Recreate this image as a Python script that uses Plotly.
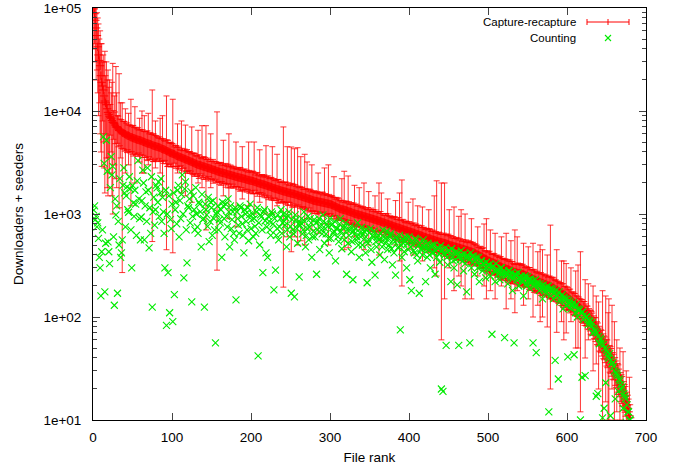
import plotly.graph_objects as go

# File ranks
ranks = list(range(1, 681))

# Capture-recapture estimates (one row = 20 ranks)
capture = [
    98000, 88000, 76000, 64000, 54000, 42000, 35000, 31000, 27500, 22000, 19000, 17500, 16000, 14000, 12500, 12000, 11500, 10500, 9700, 9300,
    8900, 8700, 8500, 8100, 7800, 7700, 7600, 7300, 7000, 6980, 6950, 6700, 6500, 6480, 6450, 6300, 6150, 6120, 6100, 6000,
    5950, 5870, 5800, 5770, 5750, 5680, 5600, 5570, 5550, 5500, 5450, 5420, 5400, 5350, 5300, 5270, 5250, 5220, 5200, 5170,
    5150, 5100, 5050, 5020, 5000, 4950, 4900, 4870, 4850, 4820, 4800, 4770, 4750, 4700, 4650, 4620, 4600, 4570, 4550, 4520,
    4500, 4470, 4450, 4420, 4400, 4350, 4300, 4270, 4250, 4220, 4200, 4150, 4100, 4070, 4050, 4000, 3950, 3920, 3900, 3870,
    3850, 3820, 3800, 3750, 3700, 3670, 3650, 3620, 3600, 3570, 3550, 3520, 3500, 3470, 3450, 3420, 3400, 3370, 3350, 3320,
    3300, 3270, 3250, 3220, 3200, 3170, 3150, 3120, 3100, 3070, 3050, 3020, 3000, 2990, 2980, 2960, 2950, 2920, 2900, 2890,
    2880, 2860, 2850, 2820, 2800, 2790, 2780, 2760, 2750, 2720, 2700, 2690, 2680, 2660, 2650, 2620, 2600, 2590, 2580, 2560,
    2550, 2530, 2520, 2510, 2500, 2490, 2480, 2460, 2450, 2430, 2420, 2410, 2400, 2390, 2380, 2360, 2350, 2340, 2330, 2310,
    2300, 2290, 2280, 2270, 2260, 2250, 2240, 2230, 2220, 2210, 2200, 2190, 2180, 2160, 2150, 2140, 2130, 2120, 2110, 2105,
    2100, 2090, 2080, 2060, 2050, 2040, 2030, 2010, 2000, 1990, 1980, 1970, 1960, 1950, 1940, 1930, 1920, 1910, 1900, 1885,
    1870, 1860, 1850, 1840, 1830, 1815, 1800, 1790, 1780, 1770, 1760, 1750, 1740, 1730, 1720, 1710, 1700, 1690, 1680, 1670,
    1660, 1655, 1650, 1640, 1630, 1620, 1610, 1605, 1600, 1590, 1580, 1575, 1570, 1565, 1560, 1550, 1540, 1530, 1520, 1510,
    1500, 1495, 1490, 1480, 1470, 1460, 1450, 1445, 1440, 1430, 1420, 1410, 1400, 1395, 1390, 1380, 1370, 1360, 1350, 1345,
    1340, 1335, 1330, 1325, 1320, 1315, 1310, 1305, 1300, 1295, 1290, 1285, 1280, 1275, 1270, 1265, 1260, 1255, 1250, 1245,
    1240, 1230, 1220, 1210, 1200, 1190, 1180, 1170, 1160, 1150, 1140, 1130, 1120, 1115, 1110, 1105, 1100, 1095, 1090, 1085,
    1080, 1070, 1060, 1055, 1050, 1045, 1040, 1030, 1020, 1015, 1010, 1005, 1000, 995, 990, 985, 980, 975, 970, 965,
    960, 955, 950, 945, 940, 935, 930, 925, 920, 915, 910, 905, 900, 895, 890, 885, 880, 875, 870, 865,
    860, 855, 850, 845, 840, 835, 830, 825, 820, 815, 810, 805, 800, 795, 790, 785, 780, 775, 770, 765,
    760, 755, 750, 745, 740, 738, 735, 730, 725, 720, 715, 710, 705, 702, 700, 695, 690, 685, 680, 678,
    675, 670, 665, 662, 660, 655, 650, 645, 640, 638, 635, 630, 625, 622, 620, 615, 610, 605, 600, 598,
    595, 590, 585, 582, 580, 578, 575, 570, 565, 562, 560, 558, 555, 550, 545, 542, 540, 538, 535, 532,
    530, 528, 525, 522, 520, 518, 515, 512, 510, 505, 500, 498, 495, 492, 490, 488, 485, 482, 480, 478,
    475, 472, 470, 468, 465, 462, 460, 458, 455, 452, 450, 448, 445, 442, 440, 438, 435, 432, 430, 428,
    425, 422, 418, 414, 410, 406, 402, 398, 395, 392, 388, 384, 380, 376, 372, 368, 365, 362, 358, 354,
    350, 348, 345, 342, 340, 338, 335, 332, 330, 328, 325, 322, 318, 315, 312, 309, 306, 303, 300, 299,
    298, 296, 294, 292, 290, 288, 286, 284, 282, 280, 278, 276, 274, 272, 270, 269, 268, 267, 266, 265,
    265, 264, 262, 260, 258, 256, 254, 252, 250, 248, 246, 244, 242, 240, 238, 236, 234, 232, 230, 228,
    225, 224, 222, 220, 219, 218, 216, 214, 213, 212, 210, 208, 207, 206, 204, 202, 201, 200, 198, 197,
    195, 193, 191, 189, 187, 185, 183, 181, 179, 177, 175, 173, 171, 169, 167, 165, 163, 161, 159, 157,
    155, 152, 150, 148, 146, 144, 142, 140, 138, 136, 134, 132, 130, 128, 126, 124, 122, 120, 118, 116,
    114, 112, 110, 108, 105, 102, 100, 98, 95, 92, 90, 88, 85, 82, 80, 78, 75, 72, 70, 67,
    64, 62, 60, 58, 56, 54, 52, 50, 49, 47, 46, 44, 43, 41, 40, 38, 37, 35, 34, 32,
    31, 29, 28, 27, 26, 24, 23, 22, 21, 20, 19, 18, 17, 16, 15, 14, 13, 12, 11, 10.5,
]

# Typical relative half-width of the confidence interval (percent)
err_pct = [
    40, 40, 40, 40, 40, 40, 40, 40, 40, 40, 40, 40, 40, 40, 40, 40, 40, 40, 40, 40,
    35, 33, 30, 36, 38, 31, 32, 34, 36, 30, 30, 33, 34, 29, 28, 31, 33, 30, 30, 32,
    28, 30, 32, 27, 25, 29, 30, 26, 27, 31, 33, 28, 26, 30, 29, 27, 31, 25, 24, 28,
    27, 29, 30, 26, 24, 28, 28, 31, 32, 27, 25, 29, 29, 26, 26, 30, 30, 27, 23, 28,
    26, 24, 22, 27, 29, 25, 24, 28, 27, 23, 21, 26, 25, 29, 28, 24, 23, 27, 26, 25,
    22, 25, 18, 23, 25, 21, 20, 26, 23, 19, 17, 24, 24, 20, 19, 25, 21, 23, 26, 22,
    20, 23, 24, 19, 18, 24, 22, 25, 25, 21, 19, 23, 21, 26, 23, 20, 17, 24, 22, 25,
    19, 24, 23, 20, 21, 25, 17, 22, 24, 19, 20, 26, 22, 21, 18, 23, 25, 20, 21, 24,
    21, 25, 18, 22, 24, 20, 20, 26, 22, 19, 26, 23, 19, 25, 23, 21, 17, 24, 22, 20,
    23, 20, 19, 24, 21, 26, 25, 19, 18, 23, 22, 25, 20, 21, 24, 19, 19, 25, 21, 23,
    20, 25, 24, 19, 17, 23, 22, 26, 19, 21, 23, 18, 21, 24, 18, 22, 25, 20, 20, 24,
    22, 26, 19, 21, 23, 25, 18, 22, 24, 19, 20, 23, 21, 25, 26, 20, 19, 24, 22, 21,
    18, 22, 23, 25, 20, 24, 25, 19, 19, 23, 22, 26, 24, 20, 17, 25, 21, 22, 23, 19,
    21, 24, 18, 22, 24, 19, 20, 25, 23, 21, 19, 24, 22, 18, 25, 23, 18, 21, 21, 25,
    24, 21, 20, 25, 19, 22, 23, 20, 21, 26, 26, 19, 18, 24, 22, 21, 20, 25, 24, 20,
    19, 23, 22, 20, 25, 21, 18, 24, 21, 25, 23, 19, 20, 22, 24, 18, 22, 25, 19, 23,
    23, 19, 20, 25, 18, 22, 24, 21, 22, 26, 19, 23, 25, 20, 21, 24, 20, 22, 23, 19,
    20, 24, 25, 21, 21, 18, 19, 25, 23, 20, 22, 26, 18, 23, 24, 19, 21, 25, 20, 22,
    22, 20, 19, 25, 24, 21, 21, 18, 18, 23, 25, 20, 23, 26, 20, 22, 22, 19, 19, 24,
    21, 25, 23, 19, 20, 24, 26, 22, 19, 21, 22, 25, 24, 20, 18, 23, 23, 19, 21, 24,
    24, 21, 20, 23, 22, 25, 19, 22, 25, 20, 21, 24, 23, 19, 20, 25, 18, 22, 24, 20,
    19, 23, 24, 20, 21, 25, 23, 19, 20, 24, 22, 18, 18, 23, 25, 21, 21, 24, 22, 19,
    23, 20, 21, 25, 19, 22, 24, 20, 22, 26, 20, 23, 25, 21, 19, 24, 23, 20, 21, 24,
    20, 24, 22, 19, 24, 21, 18, 23, 23, 20, 21, 25, 19, 22, 26, 20, 22, 25, 20, 23,
    25, 22, 21, 24, 20, 23, 23, 19, 19, 24, 24, 21, 22, 25, 21, 20, 18, 23, 23, 21,
    22, 25, 24, 20, 19, 23, 21, 24, 25, 21, 20, 24, 23, 20, 22, 25, 19, 22, 24, 21,
    21, 24, 19, 22, 25, 21, 22, 26, 20, 23, 24, 20, 18, 23, 23, 20, 21, 25, 22, 24,
    24, 21, 22, 25, 20, 23, 19, 22, 23, 20, 21, 24, 25, 21, 20, 23, 22, 25, 24, 22,
    20, 24, 23, 21, 22, 25, 25, 22, 19, 23, 24, 21, 21, 24, 22, 20, 23, 25, 20, 24,
    23, 26, 25, 22, 21, 24, 20, 23, 24, 21, 22, 25, 19, 24, 26, 22, 21, 24, 23, 25,
    25, 23, 22, 26, 24, 22, 21, 25, 23, 24, 26, 23, 22, 25, 24, 22, 20, 24, 25, 23,
    24, 26, 27, 24, 22, 25, 25, 23, 23, 26, 26, 24, 28, 25, 24, 26, 26, 25, 25, 27,
    27, 26, 25, 28, 29, 27, 26, 28, 28, 29, 30, 28, 27, 29, 29, 30, 31, 29, 28, 30,
    30, 29, 28, 31, 32, 30, 29, 31, 31, 32, 33, 31, 30, 32, 32, 33, 34, 33, 35, 34,
]

# Wide confidence intervals: rank -> (low, high)
wide_ci = {
    1: (40000, 200000), 2: (45000, 180000), 3: (30000, 150000), 4: (20000, 120000),
    5: (25000, 90000), 6: (15000, 80000), 7: (9000, 70000), 8: (12000, 50000),
    9: (6000, 60000), 10: (4000, 45000), 11: (2900, 45000), 12: (8000, 30000),
    13: (5000, 35000), 14: (2800, 30000), 15: (1600, 38000), 16: (6000, 22000),
    17: (3500, 30000), 18: (1800, 20000), 19: (1500, 25000), 20: (3500, 17000),
    21: (2500, 20000), 23: (4000, 15000), 24: (1500, 19000), 25: (1000, 29000),
    27: (3000, 14000), 29: (2200, 27000), 30: (1800, 15000), 33: (1150, 23000),
    35: (3500, 12000), 37: (270, 12000), 41: (2500, 10500), 45: (3000, 9500),
    48: (1200, 13000), 53: (2000, 11000), 59: (3200, 8500), 62: (2500, 10000),
    65: (2500, 9000), 70: (3000, 9500), 75: (540, 16000), 79: (2800, 8000),
    85: (2500, 8500), 88: (1500, 9000), 93: (450, 14000), 101: (420, 13000),
    107: (2500, 7500), 112: (1600, 8000), 117: (1500, 7300), 125: (1300, 7000),
    133: (2000, 6500), 138: (1800, 7200), 143: (700, 7200), 149: (1800, 6000),
    157: (285, 9800), 165: (1500, 5200), 172: (900, 6000), 181: (750, 5000),
    189: (1400, 4500), 197: (1200, 5000), 204: (1000, 5000), 211: (1300, 4200),
    219: (1000, 4600), 227: (1000, 4500), 233: (1200, 3800), 241: (195, 7000),
    246: (600, 4500), 251: (430, 4470), 255: (600, 4300), 259: (500, 4400),
    263: (550, 3600), 268: (500, 3800), 271: (900, 3200), 277: (700, 3000),
    285: (650, 2500), 293: (800, 2800), 298: (500, 3000), 305: (900, 2300),
    315: (700, 2200), 318: (450, 2600), 323: (470, 2340), 331: (600, 1900),
    337: (700, 1800), 343: (450, 2000), 349: (500, 1650), 357: (600, 1500),
    362: (400, 2000), 365: (550, 1600), 373: (650, 1400), 383: (500, 1350),
    388: (350, 1600), 391: (200, 2140), 399: (450, 1300), 405: (400, 1400),
    411: (500, 1200), 417: (350, 1170), 425: (420, 1100), 432: (300, 1500),
    435: (250, 2100), 441: (60, 2000), 445: (150, 2000), 451: (300, 1100),
    457: (180, 1170), 463: (250, 950), 466: (200, 1100), 471: (150, 1000),
    479: (150, 900), 487: (250, 750), 495: (200, 800), 498: (150, 900),
    503: (180, 700), 509: (150, 650), 517: (200, 600), 523: (120, 650),
    529: (150, 550), 534: (110, 700), 537: (180, 600), 545: (130, 520),
    551: (150, 480), 557: (100, 520), 563: (130, 430), 566: (90, 500),
    569: (100, 450), 575: (80, 400), 579: (20, 780), 587: (71, 450),
    593: (90, 350), 596: (60, 350), 599: (70, 330), 605: (90, 300),
    611: (50, 280), 614: (50, 320), 617: (12, 430), 623: (40, 230),
    627: (60, 210), 633: (30, 200), 637: (35, 160), 640: (20, 140),
    645: (8, 180), 649: (15, 160), 652: (10, 110), 653: (9, 150),
    657: (20, 130), 660: (10, 90), 663: (12, 60), 667: (10, 50),
    671: (8, 46), 675: (7, 30), 679: (7, 26),
}

# Counting estimates (one row = 20 ranks)
counting = [
    1090, 1200, 880, 950, 750, 820, 580, 380, 300, 160, 430, 700, 5600, 3100, 175, 520, 5200, 2600, 535, 430,
    330, 1800, 3600, 2400, 2900, 600, 130, 1400, 980, 1200, 170, 850, 500, 2200, 380, 420, 560, 1900, 2800, 1600,
    750, 1500, 1830, 1100, 1040, 2300, 1750, 700, 300, 1900, 1280, 950, 1700, 1250, 620, 2100, 3300, 1400, 900, 560,
    935, 1350, 2670, 2000, 560, 1200, 1640, 850, 2800, 1700, 470, 1150, 650, 2300, 125, 1050, 1460, 780, 1100, 1900,
    1790, 1300, 2050, 950, 1600, 2200, 850, 1450, 1050, 650, 300, 1700, 83, 1000, 270, 1500, 110, 880, 720, 1250,
    90, 1600, 165, 1100, 1300, 800, 1700, 1900, 600, 1350, 900, 1550, 2400, 1000, 240, 1750, 2050, 700, 335, 1200,
    1150, 1400, 820, 1650, 140, 950, 1500, 1100, 700, 1800, 1000, 750, 650, 1300, 1250, 1050, 480, 1550, 880, 900,
    125, 1250, 1100, 980, 760, 1450, 540, 850, 1300, 1150, 620, 1350, 900, 700, 56, 1000, 1050, 1200, 700, 880,
    820, 1100, 380, 1300, 1200, 900, 600, 1250, 950, 750, 1400, 1050, 480, 1200, 720, 880, 1050, 650, 560, 1150,
    147, 1050, 900, 780, 650, 1200, 1150, 950, 800, 620, 420, 1100, 1000, 850, 700, 1150, 550, 980, 1250, 720,
    880, 1000, 600, 900, 760, 650, 1050, 1150, 42, 820, 500, 980, 940, 700, 270, 1050, 1100, 860, 420, 750,
    380, 950, 850, 700, 620, 1050, 1000, 800, 183, 900, 285, 620, 720, 980, 560, 750, 900, 1100, 650, 820,
    1000, 850, 780, 920, 480, 700, 950, 1050, 600, 760, 170, 880, 700, 640, 157, 980, 880, 720, 520, 800,
    245, 780, 820, 900, 640, 700, 1050, 850, 480, 620, 720, 950, 560, 740, 900, 820, 380, 600, 680, 880,
    600, 820, 260, 700, 850, 900, 450, 760, 700, 640, 980, 850, 520, 720, 640, 800, 760, 580, 420, 900,
    580, 780, 800, 650, 680, 850, 350, 720, 720, 600, 540, 800, 900, 680, 460, 740, 620, 560, 750, 820,
    260, 700, 520, 620, 700, 760, 430, 540, 230, 680, 640, 720, 560, 600, 820, 500, 380, 660, 600, 740,
    500, 640, 680, 580, 420, 700, 215, 520, 560, 660, 720, 450, 340, 620, 600, 680, 255, 540, 480, 600,
    620, 560, 400, 640, 540, 480, 700, 600, 360, 520, 580, 680, 450, 580, 500, 620, 650, 460, 320, 560,
    420, 540, 255, 600, 560, 470, 480, 620, 75, 500, 380, 560, 520, 430, 600, 580, 300, 520, 450, 600,
    230, 480, 180, 540, 500, 440, 420, 580, 560, 400, 350, 500, 170, 520, 460, 450, 400, 560, 520, 470,
    220, 460, 380, 520, 450, 400, 300, 480, 500, 430, 420, 500, 260, 440, 380, 470, 470, 410, 340, 490,
    20, 450, 19, 420, 400, 470, 53, 380, 320, 440, 440, 400, 220, 460, 380, 350, 300, 420, 360, 430,
    205, 420, 53, 390, 360, 440, 400, 350, 280, 410, 330, 380, 175, 400, 380, 360, 56, 420, 300, 390,
    340, 390, 260, 360, 380, 340, 300, 380, 220, 310, 350, 350, 280, 330, 320, 300, 240, 340, 300, 320,
    290, 320, 250, 300, 68, 310, 310, 280, 220, 330, 280, 290, 260, 270, 230, 300, 300, 260, 270, 280,
    63, 270, 250, 260, 210, 280, 280, 250, 240, 270, 180, 240, 56, 260, 260, 250, 230, 270, 200, 240,
    240, 250, 220, 230, 160, 240, 250, 210, 200, 245, 230, 220, 190, 235, 215, 225, 56, 210, 200, 230,
    45, 215, 210, 200, 180, 210, 200, 190, 150, 205, 190, 180, 170, 195, 185, 200, 12, 185, 160, 190,
    175, 185, 150, 170, 38, 180, 165, 160, 25, 175, 140, 150, 160, 165, 120, 155, 150, 145, 130, 150,
    41, 145, 135, 140, 120, 130, 130, 138, 43, 125, 110, 132, 100, 120, 115, 118, 10, 110, 26, 112,
    95, 105, 27, 100, 100, 95, 85, 92, 90, 85, 80, 88, 70, 78, 75, 72, 17, 70, 18, 65,
    55, 62, 60, 56, 10.5, 54, 13, 50, 23, 48, 45, 42, 40, 44, 11, 38, 35, 36, 33, 30,
    16, 29, 28, 27, 19, 25, 24, 22, 20, 21, 13, 18, 17, 16, 9.5, 14, 12, 12, 10, 10,
]

assert len(ranks) == len(capture) == len(err_pct) == len(counting), (
    len(ranks), len(capture), len(err_pct), len(counting))

err_plus, err_minus = [], []
for r, v, p in zip(ranks, capture, err_pct):
    if r in wide_ci:
        lo, hi = wide_ci[r]
        err_plus.append(hi - v)
        err_minus.append(v - lo)
    else:
        err_plus.append(v * p / 100.0)
        err_minus.append(v * p / 100.0)

RED = "rgb(255,0,0)"
GREEN = "rgb(0,235,0)"
FONT = "Liberation Sans, Arial, sans-serif"

fig = go.Figure()
fig.add_trace(go.Scatter(
    x=ranks, y=capture, mode="markers", name="Capture-recapture",
    marker=dict(symbol="cross-thin", size=6, line=dict(color=RED, width=1)),
    error_y=dict(type="data", symmetric=False, array=err_plus, arrayminus=err_minus,
                 color="rgba(255,0,0,0.8)", thickness=1, width=3),
    showlegend=False,
))
fig.add_trace(go.Scatter(
    x=ranks, y=counting, mode="markers", name="Counting",
    marker=dict(symbol="x-thin", size=7, line=dict(color=GREEN, width=1.1)),
    showlegend=False,
))

# Plot-area edges in page pixels
L, R, T, B = 93, 646, 8, 420

def px(xp):
    return (xp - L) / float(R - L)

def py(yp):
    return (B - yp) / float(B - T)

shapes = [
    dict(type="line", xref="paper", yref="paper", x0=px(587), x1=px(629), y0=py(22), y1=py(22),
         line=dict(color=RED, width=1)),
    dict(type="line", xref="paper", yref="paper", x0=px(587), x1=px(587), y0=py(19), y1=py(25),
         line=dict(color=RED, width=1)),
    dict(type="line", xref="paper", yref="paper", x0=px(629), x1=px(629), y0=py(19), y1=py(25),
         line=dict(color=RED, width=1)),
    dict(type="line", xref="paper", yref="paper", x0=px(608), x1=px(608), y0=py(19), y1=py(25),
         line=dict(color=RED, width=1)),
    dict(type="line", xref="paper", yref="paper", x0=px(605), x1=px(611), y0=py(35), y1=py(41),
         line=dict(color=GREEN, width=1.1)),
    dict(type="line", xref="paper", yref="paper", x0=px(605), x1=px(611), y0=py(41), y1=py(35),
         line=dict(color=GREEN, width=1.1)),
]
annotations = [
    dict(text="Capture-recapture", xref="paper", yref="paper", x=px(578), y=py(22),
         xanchor="right", yanchor="middle", showarrow=False, font=dict(family=FONT, size=11.5)),
    dict(text="Counting", xref="paper", yref="paper", x=px(578), y=py(38),
         xanchor="right", yanchor="middle", showarrow=False, font=dict(family=FONT, size=11.5)),
]

fig.update_layout(
    width=681, height=470,
    margin=dict(l=L, r=681 - R, t=T, b=470 - B),
    paper_bgcolor="white", plot_bgcolor="white",
    font=dict(family=FONT, size=13.5, color="black"),
    shapes=shapes, annotations=annotations,
    xaxis=dict(
        range=[0, 700], dtick=100, tick0=0, ticks="inside", ticklen=7,
        showline=True, linecolor="black", linewidth=1, mirror="ticks",
        showgrid=False, zeroline=False, automargin=False,
        ticklabelstandoff=5,
        tickfont=dict(size=13.5),
        title=dict(text="File rank", standoff=8, font=dict(size=13.5)),
    ),
    yaxis=dict(
        type="log", range=[1, 5],
        tickvals=[10, 100, 1000, 10000, 100000],
        ticktext=["1e+01", "1e+02", "1e+03", "1e+04", "1e+05"],
        ticks="inside", ticklen=7,
        minor=dict(ticks="inside", ticklen=4, dtick="D1", showgrid=False),
        showline=True, linecolor="black", linewidth=1, mirror="ticks",
        showgrid=False, zeroline=False, automargin=False,
        ticklabelstandoff=8, ticklabeloverflow="allow",
        tickfont=dict(size=13.5),
        title=dict(text="Downloaders + seeders", standoff=16, font=dict(size=13.5)),
    ),
)

fig.write_html("out.html", config={"displayModeBar": False, "staticPlot": True})

# Remove the default page margin so the figure sits at the window origin
with open("out.html", "r", encoding="utf-8") as f:
    html = f.read()
html = html.replace("<body>", '<body style="margin:0;padding:0">', 1)
with open("out.html", "w", encoding="utf-8") as f:
    f.write(html)
